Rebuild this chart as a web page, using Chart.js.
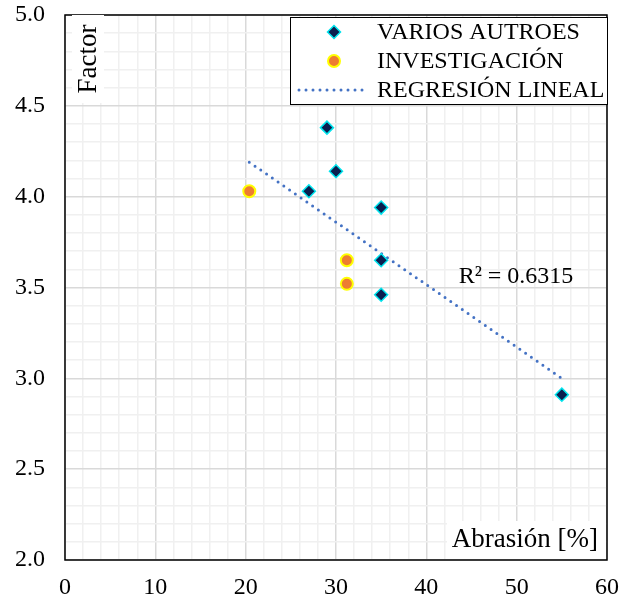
<!DOCTYPE html>
<html>
<head>
<meta charset="utf-8">
<script src="https://cdn.jsdelivr.net/npm/chart.js@4"></script>
<style>
  html, body { margin: 0; padding: 0; background: #fff; }
  #wrap { width: 629px; height: 603px; }
</style>
</head>
<body>
<div id="wrap"><canvas id="chart" width="629" height="603"></canvas></div>
<script>
// data
const variosX = [29, 30, 27, 35, 35, 35, 55];
const variosY = [4.38, 4.14, 4.03, 3.94, 3.65, 3.46, 2.91];
const investX = [20.4, 31.2, 31.2];
const investY = [4.03, 3.65, 3.52];
const trendX = [20.4, 55];
const trendY = [4.19, 3.0];
const xTickLabels = ['0', '10', '20', '30', '40', '50', '60'];
const yTickLabels = ['2.0', '2.5', '3.0', '3.5', '4.0', '4.5', '5.0'];
const seriesNames = ['VARIOS AUTROES', 'INVESTIGACIÓN', 'REGRESIÓN LINEAL'];
const r2Text = 'R² = 0.6315';

const FONT = '"Liberation Serif", "Times New Roman", serif';
const MAJOR = '#d9d9d9';
const MINOR = '#f0f0f0';

function pts(xs, ys) {
    return xs.map((x, i) => ({ x: x, y: ys[i] }));
}

// frame, axis titles, R² and legend drawn on top of the chart
const extras = {
    id: 'extras',
    afterDraw(chart) {
        const ctx = chart.ctx;
        const a = chart.chartArea;
        ctx.save();
        ctx.strokeStyle = '#000';
        ctx.lineWidth = 1.5;
        ctx.strokeRect(a.left, a.top, a.right - a.left, a.bottom - a.top);

        ctx.fillStyle = '#000';
        ctx.textBaseline = 'middle';

        // x title, bottom right inside plot
        ctx.font = '27px ' + FONT;
        ctx.fillStyle = '#fff';
        ctx.fillRect(447, 521, a.right - 448, a.bottom - 522);
        ctx.fillStyle = '#000';
        ctx.textAlign = 'right';
        ctx.fillText('Abrasión [%]', 598, 540);

        // y title, rotated, top left inside plot
        ctx.save();
        ctx.font = '27px ' + FONT;
        ctx.translate(88, 59);
        ctx.rotate(-Math.PI / 2);
        ctx.fillStyle = '#fff';
        ctx.fillRect(-44, -16, 88, 32);
        ctx.fillStyle = '#000';
        ctx.textAlign = 'center';
        ctx.fillText('Factor', 0, 1);
        ctx.restore();

        // R² label
        ctx.font = '24px ' + FONT;
        ctx.textAlign = 'center';
        ctx.fillText(r2Text, 516, 277);

        // legend box
        ctx.fillStyle = '#fff';
        ctx.fillRect(290, 17, 318, 88);
        ctx.strokeStyle = '#000';
        ctx.lineWidth = 1;
        ctx.strokeRect(290.5, 17.5, 317, 87);

        const rows = [32, 61, 90];
        const mx = 334;
        // diamond
        ctx.beginPath();
        ctx.moveTo(mx, rows[0] - 6.5);
        ctx.lineTo(mx + 6.5, rows[0]);
        ctx.lineTo(mx, rows[0] + 6.5);
        ctx.lineTo(mx - 6.5, rows[0]);
        ctx.closePath();
        ctx.fillStyle = '#0b1f4f';
        ctx.fill();
        ctx.strokeStyle = '#00e5ee';
        ctx.lineWidth = 1.5;
        ctx.stroke();
        // circle
        ctx.beginPath();
        ctx.arc(mx, rows[1], 6, 0, Math.PI * 2);
        ctx.fillStyle = '#ed7d31';
        ctx.fill();
        ctx.strokeStyle = '#ffff00';
        ctx.lineWidth = 2;
        ctx.stroke();
        // dotted line
        ctx.beginPath();
        ctx.setLineDash([0, 7]);
        ctx.lineCap = 'round';
        ctx.moveTo(299, rows[2]);
        ctx.lineTo(368, rows[2]);
        ctx.strokeStyle = '#4472c4';
        ctx.lineWidth = 3;
        ctx.stroke();
        ctx.setLineDash([]);

        ctx.font = '24px ' + FONT;
        ctx.fillStyle = '#000';
        ctx.textAlign = 'left';
        seriesNames.forEach((n, i) => ctx.fillText(n, 377, rows[i] + 1));
        ctx.restore();
    }
};

function gridColor(ctx, step) {
    const v = Math.round(ctx.tick.value / step);
    return v % 5 === 0 ? MAJOR : MINOR;
}

new Chart(document.getElementById('chart'), {
    type: 'scatter',
    data: {
        datasets: [
            {
                label: seriesNames[0],
                data: pts(variosX, variosY),
                pointStyle: 'rectRot',
                pointRadius: 6.5,
                backgroundColor: '#0b1f4f',
                borderColor: '#00e5ee',
                borderWidth: 1.5,
                order: 1
            },
            {
                label: seriesNames[1],
                data: pts(investX, investY),
                pointStyle: 'circle',
                pointRadius: 6,
                backgroundColor: '#ed7d31',
                borderColor: '#ffff00',
                borderWidth: 2,
                order: 2
            },
            {
                label: seriesNames[2],
                type: 'line',
                data: pts(trendX, trendY),
                showLine: true,
                borderColor: '#4472c4',
                borderWidth: 3,
                borderDash: [0, 7],
                borderCapStyle: 'round',
                pointRadius: 0,
                fill: false,
                order: 3
            }
        ]
    },
    options: {
        responsive: false,
        animation: false,
        layout: { padding: { top: 15, right: 22, left: 15, bottom: 0 } },
        plugins: { legend: { display: false }, tooltip: { enabled: false } },
        scales: {
            x: {
                type: 'linear',
                min: 0,
                max: 60,
                afterFit(s) { s.height = 43; },
                grid: {
                    color: c => gridColor(c, 2),
                    lineWidth: 1.5,
                    drawTicks: false
                },
                border: { display: false },
                ticks: {
                    stepSize: 2,
                    autoSkip: false,
                    maxRotation: 0,
                    padding: 4,
                    color: '#000',
                    font: { family: FONT, size: 24, lineHeight: 2 },
                    callback: v => (Math.round(v) % 10 === 0 ? xTickLabels[Math.round(v) / 10] : '')
                }
            },
            y: {
                type: 'linear',
                min: 2,
                max: 5,
                afterFit(s) { s.width = 50; },
                grid: {
                    color: c => gridColor(c, 0.1),
                    lineWidth: 1.5,
                    drawTicks: false
                },
                border: { display: false },
                ticks: {
                    stepSize: 0.1,
                    autoSkip: false,
                    padding: 0,
                    crossAlign: 'far',
                    color: '#000',
                    font: { family: FONT, size: 24, lineHeight: 1 },
                    callback: v => {
                        const k = Math.round(v * 10);
                        return k % 5 === 0 ? yTickLabels[(k - 20) / 5] : '';
                    }
                }
            }
        }
    },
    plugins: [extras]
});
</script>
</body>
</html>
